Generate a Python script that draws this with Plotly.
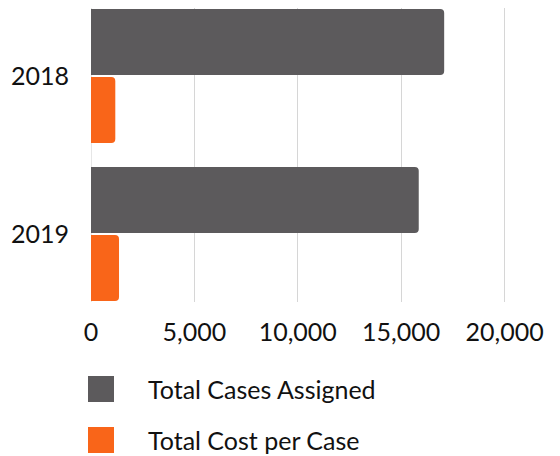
import plotly.graph_objects as go

years = ["2018", "2019"]
cases_assigned = [17080, 15850]
cost_per_case = [1175, 1355]
series_names = ["Total Cases Assigned", "Total Cost per Case"]
colors = ["#5c5a5c", "#f96519"]
tick_vals = [0, 5000, 10000, 15000, 20000]
tick_text = ["0", "5,000", "10,000", "15,000", "20,000"]

FONT = "Lato, 'DejaVu Sans', sans-serif"
PLOT_H = 294

fig = go.Figure()
for name, vals, col in zip(series_names, [cases_assigned, cost_per_case], colors):
    fig.add_trace(go.Bar(y=years, x=vals, name=name, orientation="h",
                         marker=dict(color=col, line=dict(width=0))))

fig.update_layout(
    width=560, height=456,
    margin=dict(l=83, r=13, t=0, b=456 - PLOT_H),
    barmode="group", bargap=0.139, bargroupgap=0.03,
    barcornerradius=4,
    plot_bgcolor="white", paper_bgcolor="white",
    showlegend=False,
    font=dict(family=FONT, size=25, color="#111111"),
)
fig.update_xaxes(range=[0, 22440], tickvals=tick_vals, ticktext=tick_text,
                 showgrid=True, gridcolor="#d6d6d6", gridwidth=1,
                 zeroline=True, zerolinecolor="#e6e6e6", zerolinewidth=1,
                 showline=False, ticks="", ticklabelstandoff=13,
                 automargin=False, tickfont=dict(size=25))
fig.update_yaxes(range=[1.4304, -0.4304], showgrid=False, showline=False,
                 ticks="", ticklabelstandoff=21, automargin=False,
                 tickfont=dict(size=25))

# custom legend (page pixel centers; page has 8px body offset)
legend_y = [389, 440]
for name, col, yc in zip(series_names, colors, legend_y):
    yf = yc - 8
    fig.add_shape(type="rect", xref="paper", yref="paper",
                  x0=(88 - 91) / 464, x1=(114 - 91) / 464,
                  y0=(PLOT_H - (yf + 13)) / PLOT_H,
                  y1=(PLOT_H - (yf - 13)) / PLOT_H,
                  fillcolor=col, line=dict(width=0))
    fig.add_annotation(xref="paper", yref="paper", x=(146 - 91) / 464,
                       y=(PLOT_H - yf) / PLOT_H, text=name, showarrow=False,
                       xanchor="left", yanchor="middle",
                       font=dict(size=25, family=FONT, color="#111111"))

fig.write_html("out.html")
